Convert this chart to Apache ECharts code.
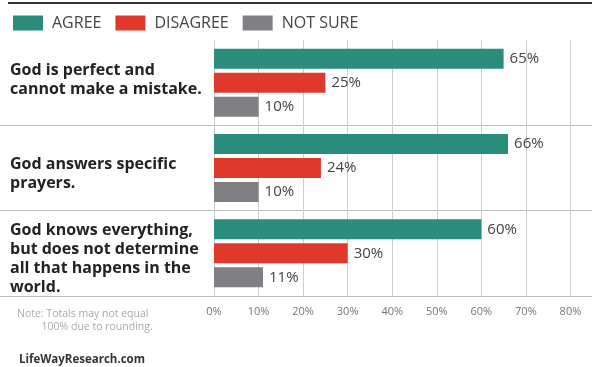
<!DOCTYPE html>
<html>
<head>
<meta charset="utf-8">
<script src="https://cdn.jsdelivr.net/npm/echarts@6/dist/echarts.min.js"></script>
<style>
  html, body { margin: 0; padding: 0; background: #fff; }
  #chart { width: 592px; height: 367px; }
</style>
</head>
<body>
<div id="chart"></div>
<script>
const statements = [
  'God is perfect and\ncannot make a mistake.',
  'God answers specific\nprayers.',
  'God knows everything,\nbut does not determine\nall that happens in the\nworld.',
];
// small vertical nudge of each statement label (px, positive = down)
const statementShift = [-3, 6, 6];
const agree = [65, 66, 60];
const disagree = [25, 24, 30];
const notSure = [10, 10, 11];
const seriesNames = ['AGREE', 'DISAGREE', 'NOT SURE'];
const colors = ['#2b8c7b', '#e0392b', '#808084'];

const font = 'Open Sans';

const chart = echarts.init(document.getElementById('chart'));

function barSeries(name, data, color) {
  return {
    name,
    type: 'bar',
    data,
    xAxisIndex: 0,
    yAxisIndex: 0,
    barWidth: 20,
    barGap: '20%',
    itemStyle: { color },
    label: {
      show: true,
      position: 'right',
      distance: 6,
      formatter: '{c}%',
      color: '#444',
      fontSize: 15,
      fontFamily: font,
    },
  };
}

// rich styles: t = statement text, g0.. = spacer lines used to nudge a label
const richStyles = {
  t: { color: '#222', fontSize: 16, fontWeight: 'bold', lineHeight: 19, fontFamily: font },
};
statementShift.forEach((d, i) => {
  const h = Math.max(1, Math.abs(d) * 2);
  richStyles['g' + i] = { height: h, lineHeight: h, fontSize: 1 };
});

function statementLabel(value, index) {
  const lines = value.split('\n').map((l) => `{t|${l}}`);
  const d = statementShift[index];
  if (d > 0) lines.unshift(`{g${index}| }`);
  if (d < 0) lines.push(`{g${index}| }`);
  return lines.join('\n');
}

chart.setOption({
  animation: false,
  color: colors,
  textStyle: { fontFamily: font },
  legend: {
    left: 8,
    top: 10,
    itemWidth: 30,
    itemHeight: 15,
    itemGap: 14,
    icon: 'rect',
    textStyle: { fontSize: 16, color: '#444', fontFamily: font, padding: [0, 0, 0, 4] },
    data: seriesNames,
  },
  title: [
    {
      text: 'Note: Totals may not equal\n         100% due to rounding.',
      left: 12,
      top: 303,
      textStyle: { fontSize: 10.5, fontWeight: 'normal', color: '#aaa', lineHeight: 13, fontFamily: font },
    },
    {
      text: 'LifeWayResearch.com',
      left: 14,
      top: 349,
      textStyle: { fontSize: 11.5, fontWeight: 'bold', color: '#333', fontFamily: font },
    },
  ],
  graphic: [
    {
      type: 'line',
      shape: { x1: 8, y1: 3, x2: 592, y2: 3 },
      style: { stroke: '#333', lineWidth: 2 },
    },
  ],
  grid: [
    { left: 214, right: -23, top: 40, bottom: 71, outerBoundsMode: 'none' },
    { left: 0, right: 0, top: 40, bottom: 71, outerBoundsMode: 'none' },
  ],
  xAxis: [
    {
      gridIndex: 0,
      type: 'value',
      min: 0,
      max: 90,
      interval: 10,
      axisLine: { show: false },
      axisTick: { show: false },
      splitLine: { lineStyle: { color: '#cfcfcf', width: 1 } },
      axisLabel: {
        formatter: '{value}%',
        color: '#777',
        fontSize: 11,
        margin: 10,
        fontFamily: font,
      },
    },
    {
      gridIndex: 1,
      type: 'value',
      show: false,
    },
  ],
  yAxis: [
    {
      gridIndex: 0,
      type: 'category',
      inverse: true,
      data: statements,
      axisLine: { show: false },
      axisTick: { show: false },
      splitLine: { show: false },
      axisLabel: {
        margin: 204,
        align: 'left',
        formatter: statementLabel,
        rich: richStyles,
      },
    },
    {
      gridIndex: 1,
      type: 'category',
      inverse: true,
      data: statements,
      axisLine: { show: false },
      axisTick: { show: false },
      axisLabel: { show: false },
      splitLine: { show: true, showMinLine: false, lineStyle: { color: '#bbb', width: 1 } },
    },
  ],
  series: [
    barSeries(seriesNames[0], agree, colors[0]),
    barSeries(seriesNames[1], disagree, colors[1]),
    barSeries(seriesNames[2], notSure, colors[2]),
  ],
});
</script>
</body>
</html>
